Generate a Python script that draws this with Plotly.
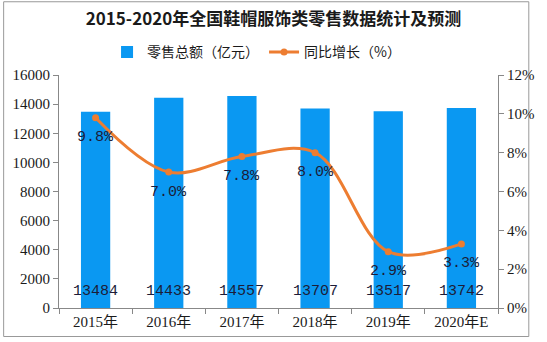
import plotly.graph_objects as go

categories = ["2015年", "2016年", "2017年", "2018年", "2019年", "2020年E"]
sales = [13484, 14433, 14557, 13707, 13517, 13742]
growth = [9.8, 7.0, 7.8, 8.0, 2.9, 3.3]
left_ticks = [0, 2000, 4000, 6000, 8000, 10000, 12000, 14000, 16000]
right_ticks = [0, 2, 4, 6, 8, 10, 12]

font_main = "Liberation Serif, Noto Sans CJK SC, serif"
font_mono = "Liberation Mono, DejaVu Sans Mono, monospace"
font_cjk = "Noto Sans CJK SC, sans-serif"

fig = go.Figure()
fig.add_trace(go.Bar(
    x=categories, y=sales, name="零售总额（亿元）",
    marker=dict(color="#0A98F2", line=dict(width=0)),
    width=0.4,
))
fig.add_trace(go.Scatter(
    x=categories, y=growth, name="同比增长（%）", yaxis="y2",
    mode="lines+markers",
    line=dict(color="#ED7D31", width=3, shape="spline", smoothing=1.0),
    marker=dict(color="#ED7D31", size=7),
    cliponaxis=False,
))

annotations = []
for c, v in zip(categories, sales):
    annotations.append(dict(x=c, y=0, xref="x", yref="y", text=str(v), showarrow=False,
                            yanchor="bottom", yshift=6,
                            font=dict(family=font_mono, size=15, color="#1c1c38")))
for c, v in zip(categories, growth):
    annotations.append(dict(x=c, y=v, xref="x", yref="y2", text=f"{v:.1f}%", showarrow=False,
                            yanchor="middle", yshift=-20,
                            font=dict(family=font_mono, size=15, color="#1c1c38")))

fig.update_layout(
    width=547, height=342,
    margin=dict(l=58, r=33, t=75, b=30),
    paper_bgcolor="white", plot_bgcolor="white",
    title=dict(text="<b>2015-2020年全国鞋帽服饰类零售数据统计及预测</b>",
               x=0.5, xanchor="center", y=0.945, yanchor="middle",
               font=dict(family=font_cjk, size=17, color="#1a1a1a")),
    legend=dict(orientation="h", x=0.45, xanchor="center", y=1.097, yanchor="middle",
                font=dict(family=font_cjk, size=14, color="#1a1a1a"),
                itemwidth=30, tracegroupgap=0),
    showlegend=True,
    annotations=annotations,
    xaxis=dict(type="category", showline=True, linecolor="#888888", linewidth=1,
               ticks="outside", tickson="boundaries", ticklen=5, tickcolor="#888888",
               tickfont=dict(family=font_main, size=15, color="#1a1a1a"),
               showgrid=False),
    yaxis=dict(range=[0, 16000], tickvals=left_ticks, ticktext=[str(v) for v in left_ticks],
               showline=True,
               linecolor="#888888", ticks="outside", ticklen=5, tickcolor="#888888",
               tickfont=dict(family=font_main, size=15, color="#1a1a1a"),
               showgrid=False, zeroline=False),
    yaxis2=dict(range=[0, 12], tickvals=right_ticks, ticktext=[f"{v}%" for v in right_ticks],
                overlaying="y", side="right", showline=True, linecolor="#888888",
                ticks="outside", ticklen=5, tickcolor="#888888",
                tickfont=dict(family=font_main, size=15, color="#1a1a1a"),
                showgrid=False, zeroline=False),
    shapes=[dict(type="rect", xref="paper", yref="paper",
                 x0=-57.5/456, x1=1 + 32/456, y0=-29/237, y1=1 + 74.5/237,
                 line=dict(color="#999999", width=1), fillcolor="rgba(0,0,0,0)", layer="below")],
)

fig.write_html("out.html")
